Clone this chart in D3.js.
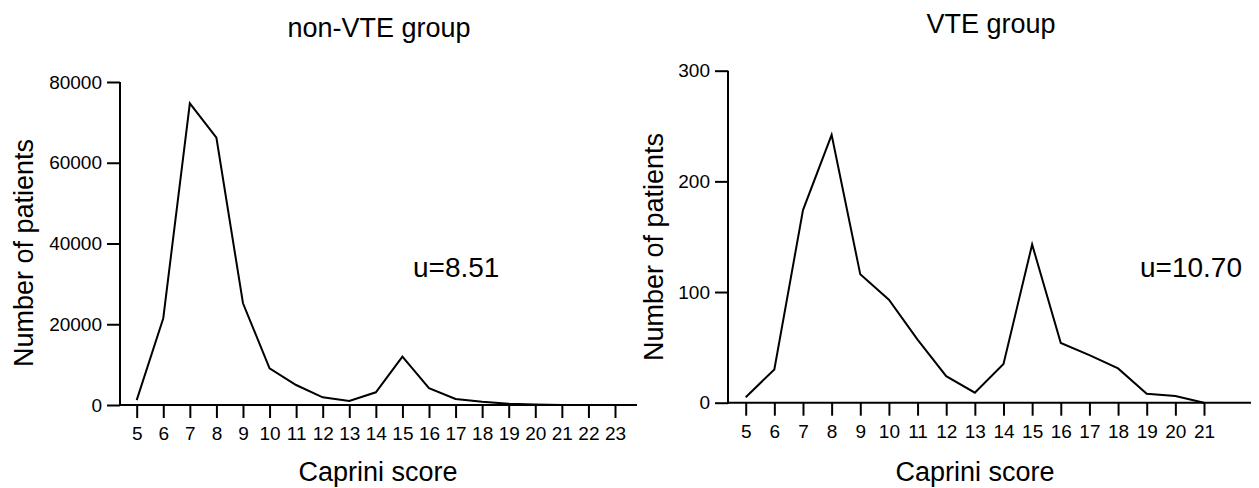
<!DOCTYPE html>
<html>
<head>
<meta charset="utf-8">
<script src="https://cdn.jsdelivr.net/npm/d3@7"></script>
<style>
  body { margin: 0; background: #fff; }
  svg { display: block; font-family: "Liberation Sans", Arial, sans-serif; }
  .tick line { stroke: #000; stroke-width: 2; }
</style>
</head>
<body>
<svg id="chart" width="1259" height="488"></svg>
<script>
// Caprini score distributions
const nonVteScores = [5, 6, 7, 8, 9, 10, 11, 12, 13, 14, 15, 16, 17, 18, 19, 20, 21, 22, 23];
const nonVteCounts = [1200, 21500, 74700, 66200, 25200, 9100, 4950, 1900, 1000, 3150, 12000, 4150, 1500, 800, 300, 100, 30, 0, 0];
const nonVteTicks = [0, 20000, 40000, 60000, 80000];

const vteScores = [5, 6, 7, 8, 9, 10, 11, 12, 13, 14, 15, 16, 17, 18, 19, 20, 21];
const vteCounts = [5, 30, 174, 242, 116, 93, 57, 24, 9, 35, 143, 54, 43, 31, 8, 6, 0];
const vteTicks = [0, 100, 200, 300];

const svg = d3.select('#chart');

function styleAxis(sel) {
    sel.attr('font-family', null).attr('font-size', 19);
    sel.select('.domain').remove();
    sel.selectAll('.tick text').attr('fill', '#000');
}

function drawPanel(opts) {
    const x = d3.scaleLinear().domain(opts.xDomain).range(opts.xRange);
    const y = d3.scaleLinear().domain(opts.yDomain).range(opts.yRange);
    const g = svg.append('g');

    // x axis
    const xAxis = g.append('g')
        .attr('transform', `translate(0,${opts.yRange[0]})`)
        .call(d3.axisBottom(x).tickValues(opts.scores).tickFormat(d3.format('d'))
            .tickSize(13).tickPadding(9).tickSizeOuter(0));
    styleAxis(xAxis);

    // y axis
    const yAxis = g.append('g')
        .attr('transform', `translate(${opts.axisX},0)`)
        .call(d3.axisLeft(y).tickValues(opts.yTicks).tickFormat(d3.format('d'))
            .tickSize(13).tickPadding(5).tickSizeOuter(0));
    styleAxis(yAxis);

    g.append('line')
        .attr('x1', opts.axisX).attr('x2', opts.axisEnd)
        .attr('y1', opts.yRange[0]).attr('y2', opts.yRange[0])
        .attr('stroke', '#000').attr('stroke-width', 2);
    g.append('line')
        .attr('x1', opts.axisX).attr('x2', opts.axisX)
        .attr('y1', opts.yRange[0] + 1).attr('y2', opts.yRange[1])
        .attr('stroke', '#000').attr('stroke-width', 2);

    const line = d3.line()
        .x((d, i) => x(opts.scores[i]))
        .y(d => y(d));

    g.append('path')
        .datum(opts.counts)
        .attr('fill', 'none')
        .attr('stroke', '#000')
        .attr('stroke-width', 2)
        .attr('d', line);

    g.append('text')
        .attr('x', opts.titleX).attr('y', opts.titleY)
        .attr('text-anchor', 'middle')
        .attr('font-size', 27)
        .text(opts.title);

    g.append('text')
        .attr('x', opts.xLabelX).attr('y', 481)
        .attr('text-anchor', 'middle')
        .attr('font-size', 27)
        .text('Caprini score');

    g.append('text')
        .attr('transform', `translate(${opts.yLabelX},${opts.yLabelY}) rotate(-90)`)
        .attr('text-anchor', 'middle')
        .attr('font-size', 27)
        .text('Number of patients');

    g.append('text')
        .attr('x', opts.meanX).attr('y', 277)
        .attr('font-size', 28)
        .text(opts.mean);
}

drawPanel({
    scores: nonVteScores,
    counts: nonVteCounts,
    yTicks: nonVteTicks,
    xDomain: [5, 23],
    xRange: [136.7, 615],
    yDomain: [0, 80000],
    yRange: [405, 82],
    axisX: 120,
    axisEnd: 637,
    title: 'non-VTE group',
    titleX: 379, titleY: 37,
    xLabelX: 378,
    yLabelX: 33, yLabelY: 253,
    meanX: 413, mean: 'u=8.51'
});

drawPanel({
    scores: vteScores,
    counts: vteCounts,
    yTicks: vteTicks,
    xDomain: [5, 21],
    xRange: [745.7, 1204],
    yDomain: [0, 300],
    yRange: [402.7, 70.7],
    axisX: 728,
    axisEnd: 1251,
    title: 'VTE group',
    titleX: 991, titleY: 33,
    xLabelX: 975,
    yLabelX: 663, yLabelY: 247,
    meanX: 1140, mean: 'u=10.70'
});
</script>
</body>
</html>
